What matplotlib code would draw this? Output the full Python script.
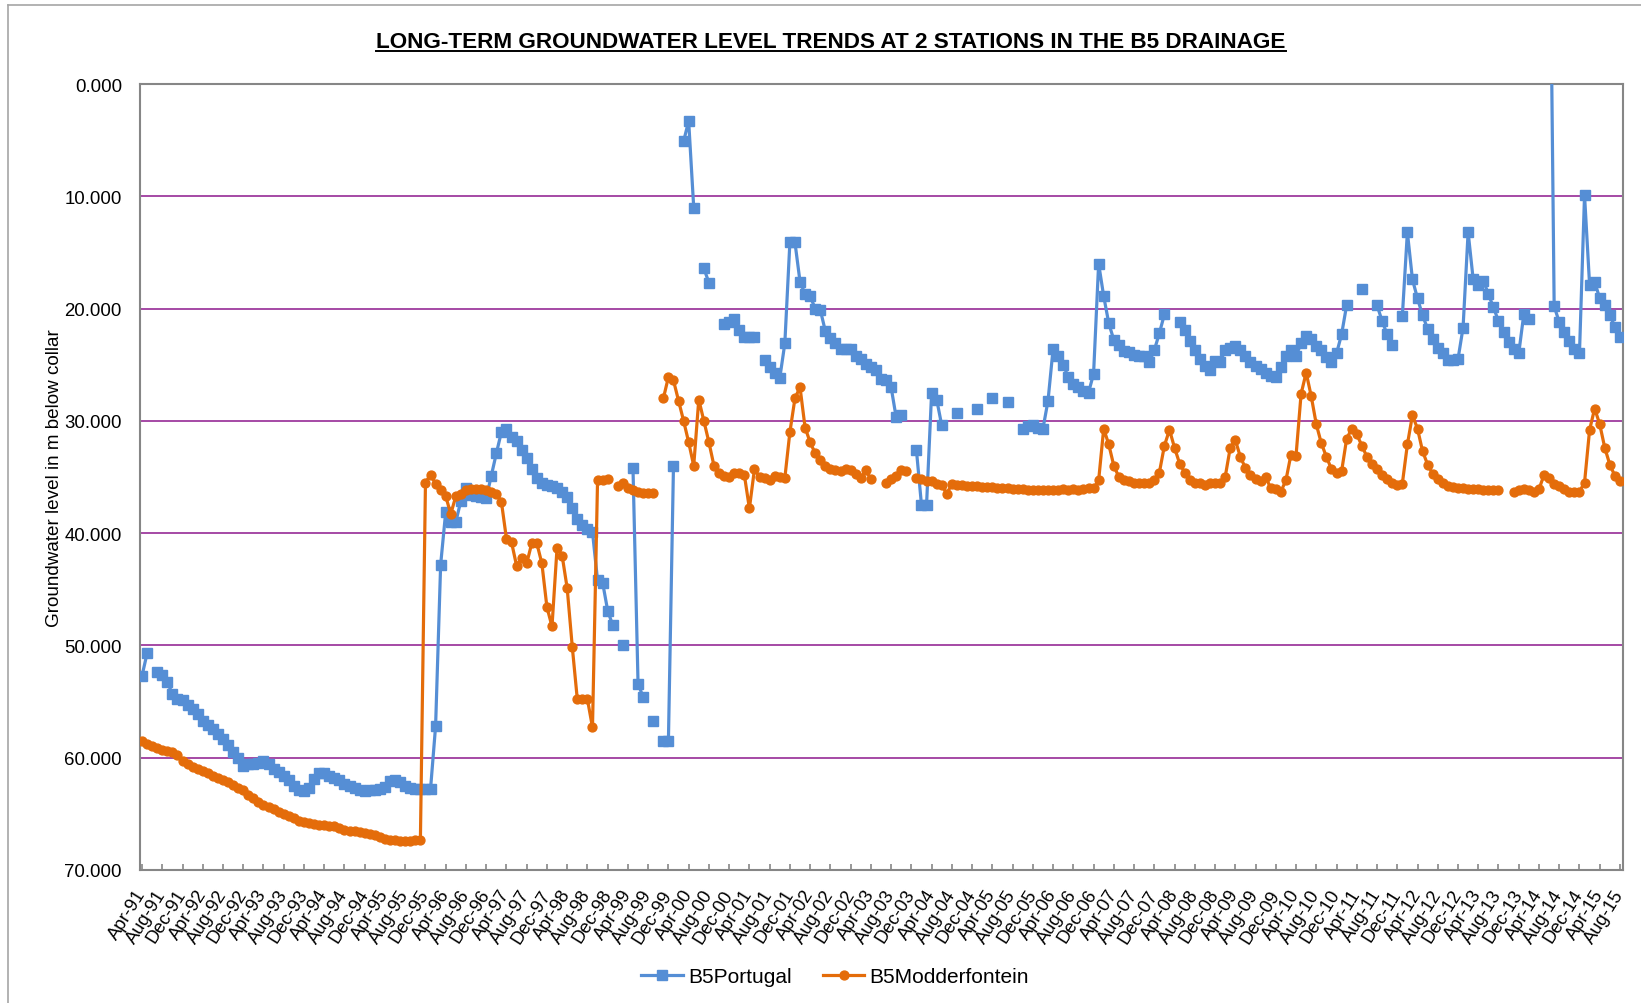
import numpy as np
import pandas as pd
import matplotlib
matplotlib.use('Agg')
import matplotlib.pyplot as plt
from matplotlib.lines import Line2D
from matplotlib.ticker import FormatStrFormatter

nan = np.nan

# monthly water levels (m below collar), Apr-91 .. Aug-15, 12 months per row
portugal = [
    52.7, 50.7, nan, 52.4, 52.6, 53.3, 54.3, 54.8, 54.9, 55.3, 55.7, 56.1,
    56.7, 57.1, 57.4, 57.9, 58.3, 58.9, 59.5, 60.0, 60.7, 60.6, 60.6, 60.5,
    60.3, 60.6, 61.0, 61.3, 61.6, 62.0, 62.5, 62.9, 63.0, 62.7, 61.9, 61.4,
    61.4, 61.6, 61.8, 62.0, 62.3, 62.5, 62.7, 62.9, 63.0, 62.9, 62.9, 62.8,
    62.6, 62.1, 62.0, 62.2, 62.5, 62.7, 62.8, 62.8, 62.8, 62.8, 57.2, 42.8,
    38.1, 39.0, 39.0, 37.1, 36.0, 36.6, 36.7, 36.8, 36.9, 34.9, 32.9, 31.0,
    30.7, 31.4, 31.8, 32.6, 33.3, 34.3, 35.1, 35.5, 35.7, 35.8, 36.0, 36.3,
    36.8, 37.8, 38.7, 39.3, 39.6, 39.9, 44.2, 44.4, 46.9, 48.2, nan, 50.0,
    nan, 34.2, 53.4, 54.6, nan, 56.7, nan, 58.5, 58.5, 34.0, nan, 5.1,
    3.3, 11.0, nan, 16.4, 17.7, nan, nan, 21.4, 21.2, 20.9, 21.9, 22.5,
    22.5, 22.5, nan, 24.6, 25.2, 25.7, 26.2, 23.1, 14.1, 14.1, 17.6, 18.7,
    18.9, 20.0, 20.1, 22.0, 22.6, 23.1, 23.6, 23.6, 23.6, 24.2, 24.5, 24.9,
    25.2, 25.5, 26.3, 26.4, 27.0, 29.7, 29.5, nan, nan, 32.6, 37.5, 37.5,
    27.5, 28.1, 30.4, nan, nan, 29.3, nan, nan, nan, 28.9, nan, nan,
    28.0, nan, nan, 28.3, nan, nan, 30.7, 30.5, 30.4, 30.6, 30.7, 28.2,
    23.6, 24.2, 25.0, 26.1, 26.7, 27.0, 27.3, 27.5, 25.8, 16.0, 18.9, 21.3,
    22.8, 23.2, 23.8, 23.9, 24.1, 24.2, 24.2, 24.8, 23.7, 22.2, 20.5, nan,
    nan, 21.2, 21.9, 22.9, 23.7, 24.5, 25.1, 25.5, 24.7, 24.8, 23.7, 23.5,
    23.3, 23.7, 24.2, 24.8, 25.1, 25.4, 25.7, 26.0, 26.1, 25.2, 24.2, 23.7,
    24.2, 23.1, 22.4, 22.7, 23.3, 23.7, 24.3, 24.8, 24.0, 22.3, 19.7, nan,
    nan, 18.3, nan, nan, 19.7, 21.1, 22.3, 23.2, nan, 20.7, 13.2, 17.4,
    19.1, 20.6, 21.8, 22.7, 23.5, 24.0, 24.6, 24.6, 24.5, 21.7, 13.2, 17.4,
    17.9, 17.5, 18.7, 19.9, 21.1, 22.1, 23.0, 23.6, 24.0, 20.5, 20.9, nan,
    nan, nan, -22.5, 19.8, 21.2, 22.1, 22.9, 23.6, 24.0, 9.9, 17.9, 17.6,
    19.1, 19.7, 20.6, 21.6, 22.5,
]

modderfontein = [
    58.5, 58.8, 59.0, 59.1, 59.3, 59.4, 59.5, 59.8, 60.3, 60.6, 60.8, 61.0,
    61.2, 61.4, 61.6, 61.8, 62.0, 62.2, 62.4, 62.7, 62.9, 63.3, 63.6, 63.9,
    64.2, 64.4, 64.6, 64.8, 65.0, 65.2, 65.4, 65.6, 65.7, 65.8, 65.9, 66.0,
    66.0, 66.1, 66.1, 66.3, 66.4, 66.5, 66.5, 66.6, 66.7, 66.8, 66.9, 67.1,
    67.2, 67.3, 67.3, 67.4, 67.4, 67.4, 67.3, 67.3, 35.5, 34.8, 35.6, 36.2,
    36.7, 38.3, 36.7, 36.5, 36.2, 36.1, 36.1, 36.1, 36.2, 36.3, 36.5, 37.2,
    40.5, 40.8, 42.9, 42.2, 42.7, 40.9, 40.9, 42.7, 46.6, 48.3, 41.3, 42.0,
    44.9, 50.1, 54.8, 54.8, 54.8, 57.3, 35.3, 35.3, 35.2, nan, 35.8, 35.5,
    36.0, 36.2, 36.3, 36.4, 36.4, 36.4, nan, 28.0, 26.1, 26.4, 28.2, 30.0,
    31.9, 34.0, 28.1, 30.0, 31.9, 34.0, 34.6, 34.9, 35.0, 34.6, 34.6, 34.8,
    37.8, 34.3, 35.0, 35.1, 35.3, 34.9, 35.0, 35.1, 31.0, 28.0, 27.0, 30.6,
    31.9, 32.9, 33.5, 34.0, 34.3, 34.4, 34.5, 34.3, 34.4, 34.7, 35.1, 34.4,
    35.2, nan, nan, 35.5, 35.2, 34.9, 34.4, 34.5, nan, 35.1, 35.2, 35.4,
    35.4, 35.6, 35.7, 36.5, 35.6, 35.7, 35.7, 35.8, 35.8, 35.8, 35.9, 35.9,
    35.9, 36.0, 36.0, 36.0, 36.1, 36.1, 36.1, 36.2, 36.2, 36.2, 36.2, 36.2,
    36.2, 36.2, 36.1, 36.2, 36.1, 36.2, 36.1, 36.0, 36.0, 35.3, 30.7, 32.1,
    34.0, 35.0, 35.3, 35.4, 35.5, 35.5, 35.5, 35.5, 35.3, 34.6, 32.2, 30.8,
    32.4, 33.8, 34.6, 35.3, 35.5, 35.5, 35.7, 35.5, 35.5, 35.5, 35.0, 32.4,
    31.7, 33.2, 34.2, 34.8, 35.2, 35.4, 35.0, 36.0, 36.1, 36.3, 35.3, 33.0,
    33.1, 27.6, 25.7, 27.8, 30.3, 32.0, 33.2, 34.3, 34.6, 34.5, 31.6, 30.7,
    31.2, 32.2, 33.2, 33.8, 34.3, 34.8, 35.2, 35.5, 35.7, 35.6, 32.1, 29.5,
    30.7, 32.7, 33.9, 34.7, 35.2, 35.5, 35.8, 35.9, 36.0, 36.0, 36.1, 36.1,
    36.1, 36.2, 36.2, 36.2, 36.2, nan, nan, 36.3, 36.2, 36.1, 36.2, 36.3,
    36.1, 34.8, 35.1, 35.6, 35.8, 36.1, 36.3, 36.3, 36.3, 35.5, 30.8, 28.9,
    30.3, 32.4, 33.9, 34.9, 35.4,
]

months = pd.date_range('1991-04-01', periods=len(portugal), freq='MS')
month_labels = [d.strftime('%b-%y') for d in months]
y_ticks = [0, 10, 20, 30, 40, 50, 60, 70]

title = 'LONG-TERM GROUNDWATER LEVEL TRENDS AT 2 STATIONS IN THE B5 DRAINAGE'
ylabel = 'Groundwater level in m below collar'

blue = '#558ED5'
orange = '#E46C0A'
grid_col = '#9E3A9E'
axis_col = '#868686'

plt.rcParams['font.family'] = ['Liberation Sans', 'DejaVu Sans']

W, H = 1641, 1004
fig = plt.figure(figsize=(W / 100, H / 100), dpi=100)
ax = fig.add_axes([140 / W, 1 - 871 / H, (1623 - 140) / W, (871 - 85) / H])

x = np.arange(len(months))
ax.plot(x, portugal, color=blue, lw=2.3, marker='s', ms=6.8,
        mec=blue, mfc=blue, label='B5Portugal', zorder=3)
ax.plot(x, modderfontein, color=orange, lw=2.3, marker='o', ms=6.4,
        mec=orange, mfc=orange, label='B5Modderfontein', zorder=4)

ax.set_ylim(70, 0)
ax.set_xlim(-0.4, 292.6)
ax.set_yticks(y_ticks)
ax.yaxis.set_major_formatter(FormatStrFormatter('%.3f'))
ax.yaxis.grid(True, color=grid_col, lw=1.3)
ax.set_axisbelow(True)

ax.set_xticks(x[::4])
ax.set_xticklabels(month_labels[::4], rotation=58, ha='right', va='center',
                   rotation_mode='anchor')

ax.tick_params(axis='y', length=0, pad=13, labelsize=13.4)
ax.tick_params(axis='x', direction='in', length=4, width=1.2, color=axis_col,
               pad=15, labelsize=13.2)
for s in ax.spines.values():
    s.set_color(axis_col)
    s.set_linewidth(1.5)

ax.set_ylabel(ylabel, fontsize=13.6)
ax.yaxis.set_label_coords(-0.052, 0.5)

ax.legend(loc='center', bbox_to_anchor=(835 / W, 1 - 978 / H),
          bbox_transform=fig.transFigure, ncol=2, frameon=False,
          fontsize=15, handlelength=2.0, handletextpad=0.25,
          columnspacing=1.5)

# title, underlined like the spreadsheet original
t = fig.text(831 / W, 1 - 48 / H, title, ha='center', va='baseline',
             fontsize=14, fontweight='bold',
             family=['Liberation Sans Narrow', 'Liberation Sans'])
r = fig.canvas.get_renderer()
bb = t.get_window_extent(r)
t.set_fontsize(14 * 909 / bb.width)
bb = t.get_window_extent(r)
uy = (H - 52) / H
fig.add_artist(Line2D([bb.x0 / W, bb.x1 / W], [uy, uy], color='black', lw=1.4))

# outer chart frame (left and top edges visible)
fy = 1 - 6 / H
fx = 8 / W
fig.add_artist(Line2D([fx, fx], [0, fy], color='#A6A6A6', lw=1.2))
fig.add_artist(Line2D([fx, 1], [fy, fy], color='#A6A6A6', lw=1.2))

fig.savefig('out.png', dpi=100)
